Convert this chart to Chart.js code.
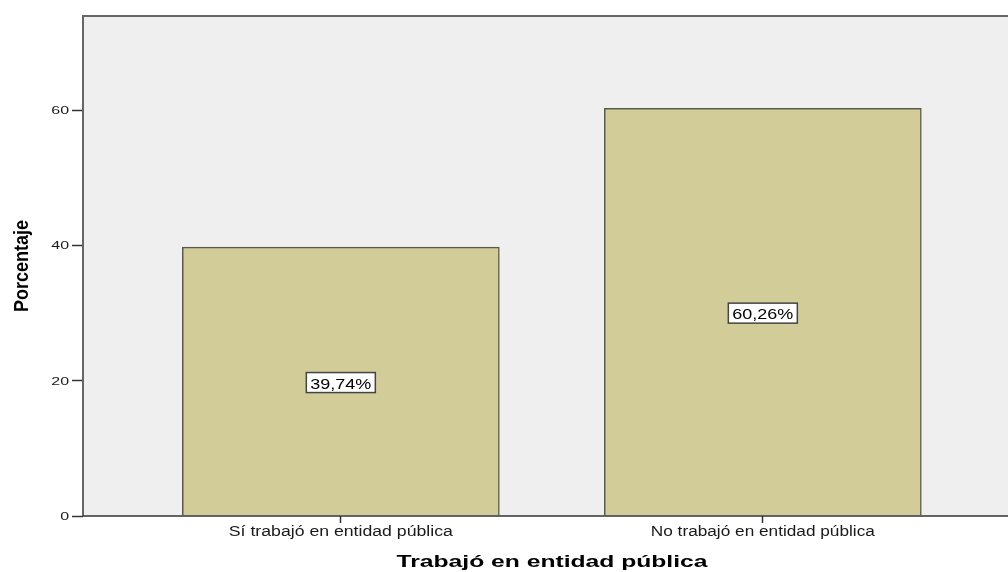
<!DOCTYPE html>
<html>
<head>
<meta charset="utf-8">
<script src="https://cdn.jsdelivr.net/npm/chart.js@4/dist/chart.umd.min.js"></script>
<style>
html,body{margin:0;padding:0;background:#fff;}
#wrap{width:1008px;height:572px;position:relative;}
</style>
</head>
<body>
<div id="wrap"><canvas id="c" width="1008" height="572"></canvas></div>
<script>
const categories = ["Sí trabajó en entidad pública", "No trabajó en entidad pública"];
const percentages = [39.74, 60.26];
const percentLabels = ["39,74%", "60,26%"];
const yTicks = [0, 20, 40, 60];
const xTitle = "Trabajó en entidad pública";
const yTitle = "Porcentaje";

const FAM = '"Liberation Sans", Arial, sans-serif';

// draw text horizontally stretched so it spans `width` pixels
function stretchText(ctx, text, x, y, font, width, align) {
  ctx.save();
  ctx.font = font;
  const w = ctx.measureText(text).width;
  const sx = width / w;
  ctx.translate(x, y);
  ctx.scale(sx, 1);
  ctx.textAlign = align || 'center';
  ctx.fillText(text, 0, 0);
  ctx.restore();
}
// draw text with a fixed horizontal stretch factor
function scaledText(ctx, text, x, y, font, sx, align) {
  ctx.save();
  ctx.font = font;
  ctx.translate(x, y);
  ctx.scale(sx, 1);
  ctx.textAlign = align || 'center';
  ctx.fillText(text, 0, 0);
  ctx.restore();
}

const bgPlugin = {
  id:'bg',
  beforeDatasetsDraw(chart){
    const {ctx, chartArea:a} = chart;
    ctx.save();
    ctx.fillStyle = '#efefef';
    ctx.fillRect(a.left, a.top, a.right - a.left, a.bottom - a.top);
    ctx.restore();
  },
  afterDatasetsDraw(chart){
    const {ctx, chartArea:a} = chart;
    ctx.save();
    ctx.strokeStyle = '#666';
    ctx.lineWidth = 2;
    ctx.beginPath();
    ctx.moveTo(a.left, a.bottom);
    ctx.lineTo(a.left, a.top);
    ctx.lineTo(a.right, a.top);
    ctx.stroke();
    ctx.strokeStyle = '#333';
    ctx.lineWidth = 1.5;
    ctx.beginPath();
    ctx.moveTo(a.left, a.bottom);
    ctx.lineTo(a.right, a.bottom);
    ctx.stroke();
    // value labels
    const meta = chart.getDatasetMeta(0);
    const ys = chart.scales.y;
    meta.data.forEach((bar, i) => {
      const cx = bar.x;
      const cy = ys.getPixelForValue(percentages[i] / 2) + 1;
      const w = 69, h = 20;
      ctx.fillStyle = '#fff';
      ctx.fillRect(cx - w/2, cy - h/2, w, h);
      ctx.strokeStyle = '#444';
      ctx.lineWidth = 1.5;
      ctx.strokeRect(cx - w/2, cy - h/2, w, h);
      ctx.fillStyle = '#000';
      ctx.textBaseline = 'alphabetic';
      stretchText(ctx, percentLabels[i], cx, cy + 6, '15px ' + FAM, 61, 'center');
    });
    ctx.restore();
  },
  afterDraw(chart){
    const {ctx, chartArea:a} = chart;
    const xs = chart.scales.x, ys = chart.scales.y;
    ctx.save();
    ctx.fillStyle = '#1a1a1a';
    ctx.textBaseline = 'alphabetic';
    // y tick labels
    yTicks.forEach(v => {
      const py = ys.getPixelForValue(v);
      scaledText(ctx, String(v), 69, py + 4, '11px ' + FAM, 1.45, 'right');
    });
    // x tick labels
    categories.forEach((c, i) => {
      const px = xs.getPixelForValue(i);
      stretchText(ctx, c, px, 536, '14px ' + FAM, 224, 'center');
    });
    // x title
    ctx.fillStyle = '#000';
    stretchText(ctx, xTitle, 552, 567, 'bold 16px ' + FAM, 311, 'center');
    // y title
    ctx.translate(28, 266);
    ctx.rotate(-Math.PI / 2);
    stretchText(ctx, yTitle, 0, 0, 'bold 21px ' + FAM, 92, 'center');
    ctx.restore();
  }
};

const data = categories.map((c, i) => ({x: i, y: percentages[i]}));

new Chart(document.getElementById('c'), {
  type: 'bar',
  data: {
    datasets: [{
      data: data,
      backgroundColor: '#d2cd98',
      borderColor: '#5a5a4a',
      borderWidth: 1.5,
      barThickness: 317,
      borderSkipped: 'bottom'
    }]
  },
  options: {
    responsive: false,
    animation: false,
    layout: {padding: {left: 0, right: 0, top: 16, bottom: 0}},
    plugins: {legend: {display: false}, tooltip: {enabled: false}},
    scales: {
      x: {
        type: 'linear',
        min: -0.611,
        max: 1.581,
        offset: false,
        afterBuildTicks(s){ s.ticks = categories.map((c, i) => ({value: i})); },
        afterFit(s){ s.height = 56; },
        ticks: {display: false},
        grid: {drawOnChartArea: false, offset: false, tickLength: 7, tickColor: '#333', tickWidth: 1.5},
        border: {display: false}
      },
      y: {
        min: 0,
        max: 73.9,
        afterBuildTicks(s){ s.ticks = yTicks.map(v => ({value: v})); },
        afterFit(s){ s.width = 83; },
        ticks: {display: false},
        grid: {drawOnChartArea: false, tickLength: 11, tickColor: '#333', tickWidth: 1.5},
        border: {display: false}
      }
    }
  },
  plugins: [bgPlugin]
});
</script>
</body>
</html>
